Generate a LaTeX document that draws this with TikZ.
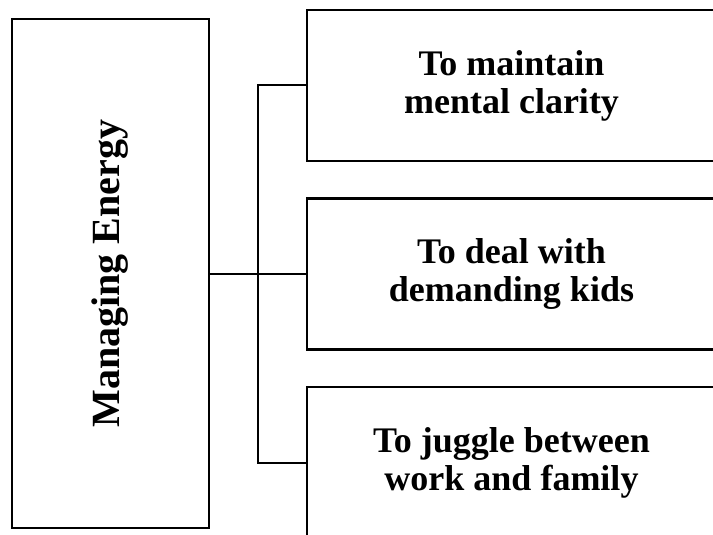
\documentclass[tikz,border=0pt]{standalone}
\usepackage{fontspec}
\setmainfont{Liberation Serif}
\begin{document}
\begin{tikzpicture}[x=1pt,y=-1pt,
  mainbox/.style={draw, line width=2.2pt, minimum width=197pt, minimum height=509pt, inner sep=0pt},
  itembox/.style={draw, line width=2.2pt, minimum width=409pt, minimum height=151pt, inner sep=0pt,
    align=center, font=\fontsize{36pt}{38pt}\selectfont\bfseries},
  link/.style={line width=2pt}]
  \useasboundingbox (0,0) rectangle (713,535);
  \begin{scope}
    \clip (0,0) rectangle (713,535);
    % root box and its rotated title
    \node[mainbox] (L) at (110.5,273.5) {};
    \node[rotate=90, font=\fontsize{40pt}{42pt}\selectfont\bfseries] (Lt) at (L.center) {Managing Energy};
    % the three branches
    \node[itembox] (B1) at (511.5,85.5) {To maintain\\mental clarity};
    \node[itembox] (B2) at (511.5,274) {To deal with\\demanding kids};
    \node[itembox] (B3) at (511.5,462.5) {To juggle between\\work and family};
    % bracket joining the branches
    \coordinate (j1) at (258,85.5);
    \coordinate (j3) at (258,462.5);
    \draw[link] (B1.west) -- (j1) -- (j3) -- (B3.west);
    \draw[link] (L.east |- B2.west) -- (B2.west);
  \end{scope}
\end{tikzpicture}
\end{document}
